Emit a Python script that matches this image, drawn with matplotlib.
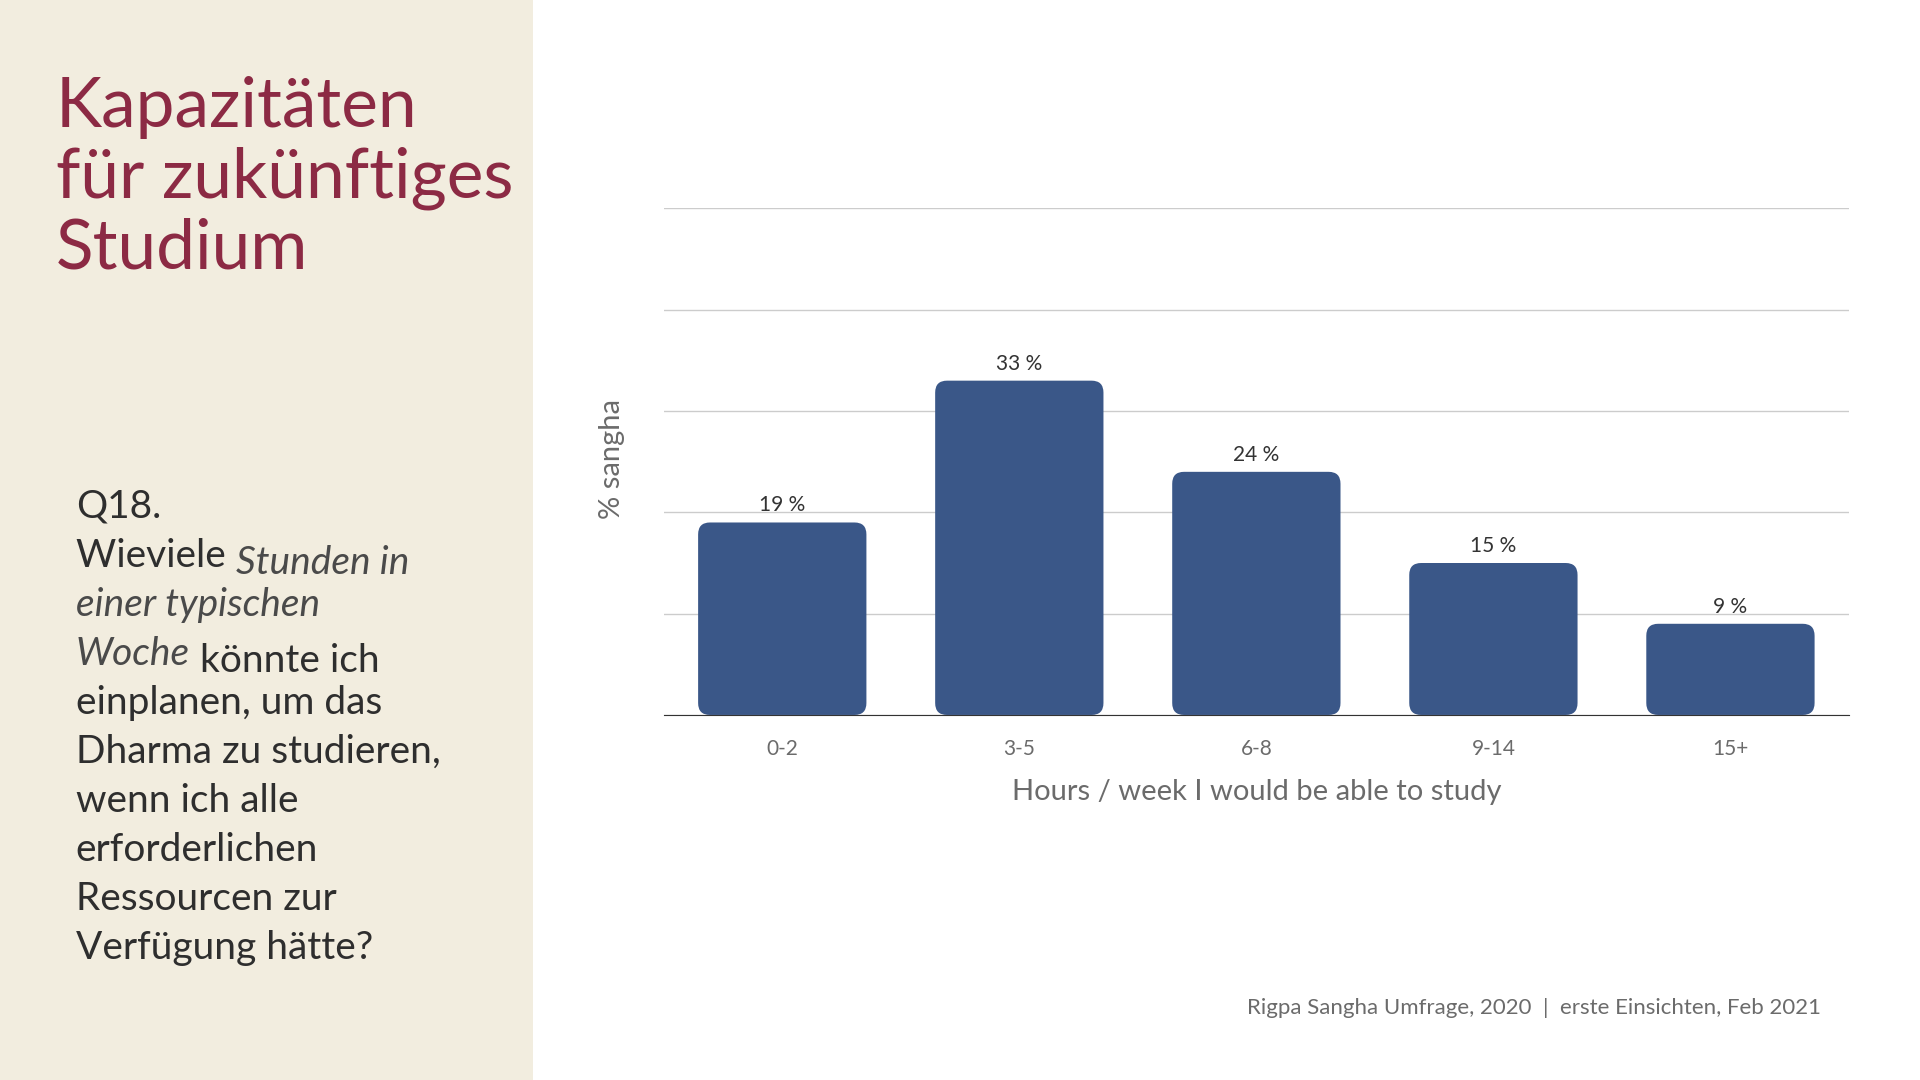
import matplotlib.pyplot as plt
from matplotlib.patches import FancyBboxPatch, Rectangle

categories = ['0-2', '3-5', '6-8', '9-14', '15+']
values = [19, 33, 24, 15, 9]
value_labels = ['19 %', '33 %', '24 %', '15 %', '9 %']

FONT = 'Lato'
BAR = '#3A5788'
RED = '#8C2A44'
DARK = '#2E2E2E'
GREY = '#6B6B6B'

fig = plt.figure(figsize=(19.2, 10.8), dpi=100)
fig.patch.set_facecolor('white')
fig.add_artist(Rectangle((0, 0), 0.2775, 1, transform=fig.transFigure,
                         facecolor='#F2EDDF', edgecolor='none', zorder=0))

# title
fig.text(0.029, 0.93, 'Kapazitäten\nfür zukünftiges\nStudium', fontfamily=FONT,
         fontsize=50, color=RED, va='top', ha='left', linespacing=1.15)

# question text with italic parts
lines = [
    [('Q18.', 'normal')],
    [('Wieviele ', 'normal'), ('Stunden in', 'italic')],
    [('einer typischen', 'italic')],
    [('Woche', 'italic'), (' könnte ich', 'normal')],
    [('einplanen, um das', 'normal')],
    [('Dharma zu studieren,', 'normal')],
    [('wenn ich alle', 'normal')],
    [('erforderlichen', 'normal')],
    [('Ressourcen zur', 'normal')],
    [('Verfügung hätte?', 'normal')],
]
y0 = 1 - 423 / 882
dy = 40 / 882
for i, parts in enumerate(lines):
    prev = None
    for txt, style in parts:
        kw = dict(fontfamily=FONT, fontsize=28, color=DARK, style=style,
                  va='baseline', ha='left')
        if style == 'italic':
            kw['color'] = '#4A4A4A'
        if prev is None:
            prev = fig.text(0.0395, y0 - i * dy, txt, **kw)
        else:
            prev = fig.add_artist(plt.Annotation(txt, xy=(1, 0), xycoords=prev,
                                                 **kw))

ax = fig.add_axes([0.3457, 0.338, 0.6173, 0.469])
ax.set_xlim(-0.5, 4.5)
ax.set_ylim(0, 50)
ax.set_yticks(range(0, 51, 10))
ax.yaxis.grid(True, color='#CCCCCC', linewidth=1)
ax.set_axisbelow(True)
ax.tick_params(axis='y', left=False, labelleft=False)
ax.tick_params(axis='x', bottom=False, labelsize=15, labelcolor=GREY, pad=14)
for s in ['top', 'right', 'left']:
    ax.spines[s].set_visible(False)
ax.spines['bottom'].set_color('#333333')
ax.spines['bottom'].set_zorder(5)

bars = ax.bar(range(len(categories)), values, width=0.71, color='none')
for b, lab in zip(bars, value_labels):
    x, w, h = b.get_x(), b.get_width(), b.get_height()
    ax.add_patch(FancyBboxPatch((x, 0), w, h, boxstyle='round,pad=0,rounding_size=0.05',
                                mutation_aspect=23.5, facecolor=BAR, edgecolor='none',
                                zorder=3))
    ax.text(x + w / 2, h + 0.7, lab, ha='center', va='bottom', fontfamily=FONT,
            fontsize=15, color='#333333')
ax.set_xticks(range(len(categories)))
ax.set_xticklabels(categories, fontfamily=FONT)
ax.set_xlabel('Hours / week I would be able to study', fontfamily=FONT,
              fontsize=21, color=GREY, labelpad=14)

fig.text(0.319, 1 - 375 / 882, '% sangha', rotation=90, fontfamily=FONT, fontsize=21,
         color=GREY, ha='center', va='center')

fig.text(1487 / 1568, 1 - 823 / 882, 'Rigpa Sangha Umfrage, 2020  |  erste Einsichten, Feb 2021',
         fontfamily=FONT, fontsize=16, color=GREY, ha='right', va='center')

fig.savefig('out.png', dpi=100)
